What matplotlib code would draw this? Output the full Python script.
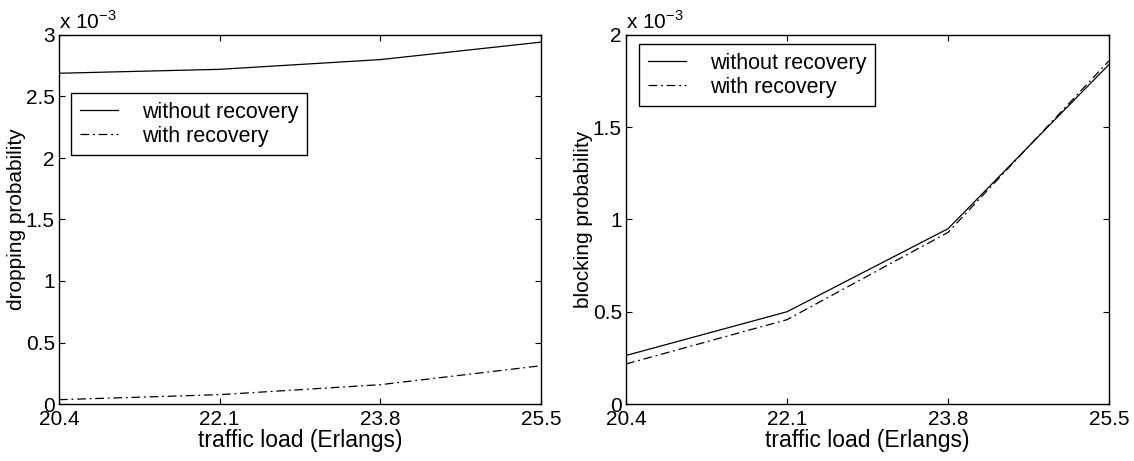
#!/usr/bin/env python3
# Dropping / blocking probability vs traffic load, with and without recovery.

import matplotlib
matplotlib.use('Agg')
import matplotlib.pyplot as plt
from matplotlib.ticker import FuncFormatter


LOAD = [20.4, 22.1, 23.8, 25.5]
LOAD_TICKS = ['20.4', '22.1', '23.8', '25.5']

DROP_WITHOUT = [2.689e-3, 2.721e-3, 2.80e-3, 2.942e-3]
DROP_WITH = [0.035e-3, 0.076e-3, 0.157e-3, 0.311e-3]

BLOCK_WITHOUT = [0.263e-3, 0.50e-3, 0.95e-3, 1.84e-3]
BLOCK_WITH = [0.217e-3, 0.457e-3, 0.93e-3, 1.86e-3]

LABELS = ['without recovery', 'with recovery']

FONT = 'Liberation Sans'
DASHDOT = (0, (7, 3, 1.5, 3))


def milli(v, pos):
    return '%g' % round(v * 1e3, 3)


def setup_axes(ax, ylim, yticks, ylabel):
    ax.set_xlim(LOAD[0], LOAD[-1])
    ax.set_ylim(*ylim)
    ax.set_xticks(LOAD)
    ax.set_xticklabels(LOAD_TICKS)
    ax.set_yticks(yticks)
    ax.yaxis.set_major_formatter(FuncFormatter(milli))
    ax.tick_params(direction='in', top=True, right=True, length=4,
                   width=0.8, labelsize=15)
    ax.tick_params(axis='x', pad=4)
    ax.tick_params(axis='y', pad=3)
    for s in ax.spines.values():
        s.set_linewidth(1.0)
    ax.set_xlabel('traffic load (Erlangs)', fontsize=16.5, labelpad=0)
    ax.set_ylabel(ylabel, fontsize=15, labelpad=0)
    ax.text(0.0, 1.005, r'x 10$^{-3}$', transform=ax.transAxes,
            fontsize=15, ha='left', va='bottom')


def main():
    plt.rcParams['font.family'] = [FONT, 'DejaVu Sans']
    plt.rcParams['mathtext.fontset'] = 'custom'
    plt.rcParams['mathtext.rm'] = FONT
    fig = plt.figure(figsize=(11.34, 4.61), dpi=100)
    ax1 = fig.add_axes([59 / 1134, 57 / 461, 482 / 1134, 369 / 461])
    ax2 = fig.add_axes([626 / 1134, 57 / 461, 483 / 1134, 369 / 461])

    ax1.plot(LOAD, DROP_WITHOUT, color='black', lw=0.9, label=LABELS[0])
    ax1.plot(LOAD, DROP_WITH, color='black', lw=0.9, linestyle=DASHDOT,
             label=LABELS[1])
    setup_axes(ax1, (0, 3e-3), [0, 0.5e-3, 1e-3, 1.5e-3, 2e-3, 2.5e-3, 3e-3],
               'dropping probability')

    ax2.plot(LOAD, BLOCK_WITHOUT, color='black', lw=0.9, label=LABELS[0])
    ax2.plot(LOAD, BLOCK_WITH, color='black', lw=0.9, linestyle=DASHDOT,
             label=LABELS[1])
    setup_axes(ax2, (0, 2e-3), [0, 0.5e-3, 1e-3, 1.5e-3, 2e-3],
               'blocking probability')

    # legend upper-left corners, in pixels
    for ax, (px, py) in ((ax1, (71, 93)), (ax2, (639, 44))):
        anchor = fig.transFigure.inverted().transform(
            fig.transFigure.transform((0, 0)) + (px, 461 - py))
        leg = ax.legend(loc='upper left', bbox_to_anchor=anchor,
                        bbox_transform=fig.transFigure, fontsize=15.5,
                        fancybox=False, framealpha=1, edgecolor='black',
                        handlelength=1.77, handletextpad=1.15,
                        borderpad=0.4, labelspacing=0.15, borderaxespad=0)
        leg.get_frame().set_linewidth(1.0)

    fig.savefig('out.png', dpi=100)
    plt.close(fig)


if __name__ == '__main__':
    main()
